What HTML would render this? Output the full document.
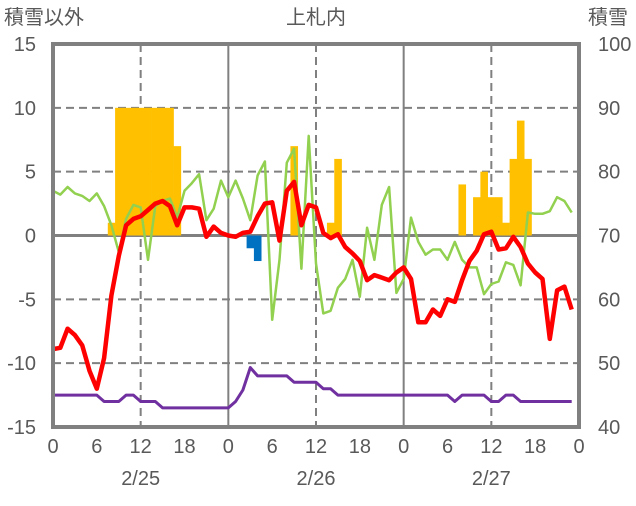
<!DOCTYPE html>
<html><head><meta charset="utf-8"><style>
body{margin:0;background:#fff;}
svg text{font-family:"Liberation Sans","Noto Sans CJK JP",sans-serif;fill:#595959;font-size:20px;}
</style></head><body>
<svg id="chart" width="636" height="501" xmlns="http://www.w3.org/2000/svg">
<g id="grid"></g><g id="bars"></g><g id="lines"></g><g id="labels"></g>
<rect x="53" y="44" width="526" height="383" fill="none" stroke="#808080" stroke-width="4"/>
<text x="4" y="24">積雪以外</text>
<text x="316" y="24" text-anchor="middle">上札内</text>
<text x="588" y="24">積雪</text>
</svg>
<script>
const leftTicks=[15,10,5,0,-5,-10,-15];
const rightTicks=[100,90,80,70,60,50,40];
const hourTicks=["0","6","12","18","0","6","12","18","0","6","12","18","0"];
const dates=["2/25","2/26","2/27"];
const barHours=[8,9,10,11,12,13,14,15,16,17,27,28,33,38,39,56,58,59,60,61,62,63,64,65];
const barValues=[1,10,10,10,10,10,10,10,10,7,-1,-2,7,1,6,4,3,5,3,3,1,6,9,6];
const redSeries=[-8.9,-8.8,-7.3,-7.8,-8.6,-10.6,-12.0,-9.6,-4.7,-1.6,0.8,1.3,1.5,2.0,2.5,2.7,2.3,0.8,2.2,2.2,2.1,-0.1,0.7,0.2,0.0,-0.1,0.2,0.3,1.5,2.5,2.6,-0.4,3.5,4.2,0.8,2.4,2.2,0.2,-0.2,0.1,-0.9,-1.4,-2.0,-3.5,-3.1,-3.3,-3.5,-2.9,-2.5,-3.4,-6.8,-6.8,-5.8,-6.3,-5.0,-5.2,-3.5,-2.0,-1.2,0.1,0.3,-1.1,-1.0,-0.1,-0.9,-2.2,-2.9,-3.4,-8.1,-4.3,-4.0,-5.8];
const greenSeries=[3.5,3.2,3.8,3.3,3.1,2.7,3.3,2.3,0.8,-1.3,1.3,2.4,2.2,-1.9,2.3,2.7,2.9,1.4,3.5,4.1,4.8,1.2,2.1,4.3,3.0,4.3,2.9,1.2,4.7,5.8,-6.6,-1.9,5.7,6.8,-2.6,7.8,-2.2,-6.1,-5.9,-4.1,-3.4,-1.9,-4.8,0.6,-1.9,2.4,3.8,-4.5,-3.4,1.4,-0.5,-1.5,-1.1,-1.1,-1.9,-0.5,-1.9,-2.5,-2.5,-4.6,-3.8,-3.6,-2.1,-2.3,-3.9,1.8,1.7,1.7,1.9,3.0,2.7,1.8];
const snowDepth=[45,45,45,45,45,45,45,44,44,44,45,45,44,44,44,43,43,43,43,43,43,43,43,43,43,44,45.8,49.3,48,48,48,48,48,47,47,47,47,46,46,45,45,45,45,45,45,45,45,45,45,45,45,45,45,45,45,44,45,45,45,45,44,44,45,45,44,44,44,44,44,44,44,44];
const NS="http://www.w3.org/2000/svg";
const X0=53,X1=579,Y0=44,Y1=427;
const xs=h=>X0+h*(X1-X0)/72;
const yl=v=>Y1-(v+15)*(Y1-Y0)/30;
const yr=v=>Y1-(v-40)*(Y1-Y0)/60;
function mk(tag,attrs,parent){const e=document.createElementNS(NS,tag);for(const k in attrs)e.setAttribute(k,attrs[k]);document.getElementById(parent).appendChild(e);return e;}
leftTicks.forEach((v,i)=>{
 if(v===15||v===-15)return;
 const g=mk('line',{x1:X0,x2:X1,y1:yl(v),y2:yl(v),stroke:'#808080','stroke-width':v===0?3:2,'stroke-dasharray':v===0?'none':'8,5'},'grid');
 
 
});
for(let h=12;h<72;h+=12){
 const day=h%24===0;
 const g=mk('line',{x1:xs(h),x2:xs(h),y1:Y0,y2:Y1,stroke:'#808080','stroke-width':2,'stroke-dasharray':day?'none':'8,5'},'grid');
 
 
}
const bw=(X1-X0)/72;
barHours.forEach((h,i)=>{
 const v=barValues[i];
 const y=Math.min(yl(v),yl(0)),hh=Math.abs(yl(v)-yl(0));
 const b=mk('rect',{x:xs(h)-bw/2,y:y,width:bw+0.3,height:hh,fill:v>=0?'#FFC000':'#0070C0'},'bars');
 
 
});
function line(arr,fy,color,w,name){
 const p=arr.map((v,i)=>xs(i).toFixed(1)+','+fy(v).toFixed(1)).join(' ');
 const l=mk('polyline',{points:p,fill:'none',stroke:color,'stroke-width':w,'stroke-linejoin':'round'},'lines');
 
 
}
line(greenSeries,yl,'#92D050',2.5,'green-series-line');
line(redSeries,yl,'#FF0000',4.5,'temperature-line');
line(snowDepth,yr,'#7030A0',3,'snow-depth-line');
leftTicks.forEach(v=>{
 const t=mk('text',{x:36,y:yl(v)+7,'text-anchor':'end'},'labels');t.textContent=v;
 
 
});
rightTicks.forEach(v=>{
 const t=mk('text',{x:598,y:yr(v)+7},'labels');t.textContent=v;
 
 
});
hourTicks.forEach((s,i)=>{
 const t=mk('text',{x:xs(i*6),y:453,'text-anchor':'middle'},'labels');t.textContent=s;
 
 
});
dates.forEach((s,i)=>{
 const t=mk('text',{x:xs(i*24+12),y:485,'text-anchor':'middle'},'labels');t.textContent=s;
 
 
});
</script>
</body></html>
